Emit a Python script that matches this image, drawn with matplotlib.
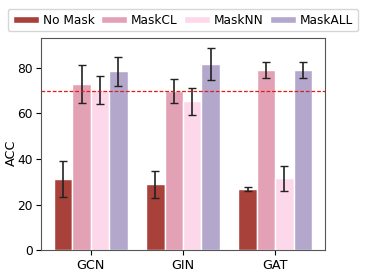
import numpy as np
import matplotlib
matplotlib.use("Agg")
import matplotlib.pyplot as plt

# data
models = ["GCN", "GIN", "GAT"]
methods = ["No Mask", "MaskCL", "MaskNN", "MaskALL"]
colors = ["#a8413a", "#e3a1b5", "#fdd8ea", "#b3a8cc"]

acc = {
    "No Mask": [31.3, 28.9, 26.9],
    "MaskCL": [72.8, 69.9, 79.0],
    "MaskNN": [70.2, 65.2, 31.5],
    "MaskALL": [78.4, 81.8, 79.0],
}
err = {
    "No Mask": [8.0, 6.0, 1.0],
    "MaskCL": [8.3, 5.3, 3.7],
    "MaskNN": [6.1, 6.0, 5.6],
    "MaskALL": [6.3, 7.0, 3.7],
}
baseline = 69.7

fig = plt.figure(figsize=(3.66, 2.74), dpi=100)
ax = fig.add_axes([0.112, 0.087, 0.776, 0.774])

x = np.arange(len(models))
w = 0.2
for i, m in enumerate(methods):
    ax.bar(x + (i - 1.5) * w, acc[m], w, yerr=err[m], color=colors[i],
           edgecolor="white", linewidth=1, label=m, capsize=3,
           error_kw=dict(ecolor="#222222", elinewidth=1.2, capthick=1))

ax.axhline(baseline, color="#e31a1c", linestyle=(0, (3, 1.5)), linewidth=0.9)

ax.set_ylim(0, 93)
ax.set_xticks(x)
ax.set_xticklabels(models, fontsize=9.2)
ax.set_yticks([0, 20, 40, 60, 80])
ax.tick_params(axis="y", labelsize=8.8, pad=2.5)
ax.tick_params(axis="x", pad=3)
ax.set_ylabel("ACC", fontsize=9.2)
ax.yaxis.set_label_coords(-0.083, 0.46)
for s in ax.spines.values():
    s.set_color("#555555")

fig.legend(loc="upper center", bbox_to_anchor=(0.5, 0.99), ncol=4,
           fontsize=8.7, handlelength=2.2, handletextpad=0.3,
           columnspacing=0.5, borderpad=0.4, handleheight=0.55)

fig.savefig("out.png", dpi=100)
